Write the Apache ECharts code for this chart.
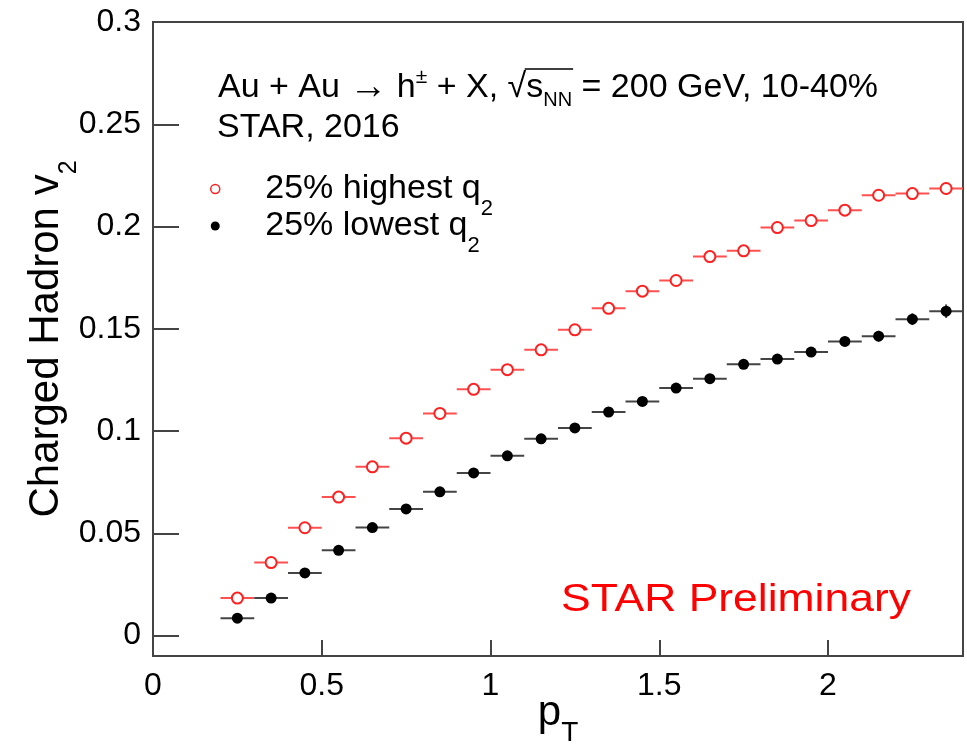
<!DOCTYPE html>
<html><head><meta charset="utf-8">
<script src="https://cdn.jsdelivr.net/npm/echarts@6/dist/echarts.min.js"></script>
<style>html,body{margin:0;padding:0;background:#fff}#c{width:967px;height:746px}</style>
</head><body><div id="c"></div>
<script>
// ---- data ----
const pT = [0.25,0.35,0.45,0.55,0.65,0.75,0.85,0.95,1.05,1.15,1.25,1.35,1.45,1.55,1.65,1.75,1.85,1.95,2.05,2.15,2.25,2.35];
const pTBinHalfWidth = 0.05;
const v2High = [0.0183,0.0357,0.0527,0.0677,0.0825,0.0965,0.1086,0.1204,0.1300,0.1397,0.1495,0.1600,0.1684,0.1736,0.1853,0.1881,0.1995,0.2029,0.2080,0.2153,0.2161,0.2186];
const v2HighErr = [0.0004,0.0004,0.0005,0.0005,0.0006,0.0006,0.0007,0.0008,0.0009,0.0010,0.0011,0.0012,0.0013,0.0014,0.0016,0.0018,0.0020,0.0022,0.0024,0.0028,0.0029,0.0031];
const v2Low = [0.0085,0.0183,0.0306,0.0417,0.0528,0.0619,0.0703,0.0795,0.0879,0.0962,0.1015,0.1093,0.1145,0.1210,0.1256,0.1326,0.1352,0.1386,0.1438,0.1464,0.1547,0.1586];
const v2LowErr = [0.0004,0.0004,0.0005,0.0005,0.0006,0.0006,0.0007,0.0008,0.0009,0.0010,0.0011,0.0012,0.0013,0.0014,0.0016,0.0018,0.0020,0.0022,0.0024,0.0026,0.0029,0.0033];
const xTicks = [0, 0.5, 1, 1.5, 2];
const yTicks = [0, 0.05, 0.1, 0.15, 0.2, 0.25, 0.3];
const seriesNames = ['25% highest q2', '25% lowest q2'];
const legendLabels = ['25% highest q{sub|2}', '25% lowest q{sub|2}'];

// ---- style ----
const FONT = '"Liberation Sans", Arial, Helvetica, sans-serif';
const RED = '#ff2020', RED_BAR = '#ff5050', BLACK = '#000', BLACK_BAR = '#444', FRAME = '#444';

const chart = echarts.init(document.getElementById('c'), null, {renderer: 'canvas'});

function errRender(color) {
  return function (params, api) {
    const x = api.value(0), y = api.value(1), ex = api.value(2), ey = api.value(3);
    const l = api.coord([x - ex, y]), r = api.coord([x + ex, y]);
    const t = api.coord([x, y + ey]), b = api.coord([x, y - ey]);
    return {type: 'group', children: [
      {type: 'line', shape: {x1: l[0], y1: l[1], x2: r[0], y2: r[1]}, style: {stroke: color, lineWidth: 2}},
      {type: 'line', shape: {x1: t[0], y1: t[1], x2: b[0], y2: b[1]}, style: {stroke: color, lineWidth: 2}}
    ]};
  };
}

// text pieces laid out by measured widths (for super/subscripts)
const mctx = document.createElement('canvas').getContext('2d');
function measure(text, size) { mctx.font = size + 'px "Liberation Sans"'; return mctx.measureText(text).width; }
function textRun(segs, x0, baseline) {
  let x = x0; const els = []; const pos = [];
  segs.forEach(s => {
    const w = measure(s.text, s.size);
    const base = baseline + (s.dy || 0);
    els.push({type: 'text', x: x, y: base - 0.33 * s.size, silent: true,
      style: {text: s.text, fontSize: s.size, fontFamily: FONT, fill: '#000', verticalAlign: 'middle', align: 'left'}});
    pos.push([x, x + w]);
    x += w;
  });
  return {els, pos};
}

const line1 = textRun([
  {text: 'Au + Au ', size: 34},
  {text: '\u2192', size: 38, dy: 1},
  {text: ' h', size: 34},
  {text: '\u00b1', size: 21, dy: -15},
  {text: ' + X, ', size: 34},
  {text: '\u221a', size: 34},
  {text: 's', size: 34},
  {text: 'NN', size: 20, dy: 8},
  {text: ' = 200 GeV, 10-40%', size: 34}
], 218, 99);
const sqrtEnd = line1.pos[5][1], nnEnd = line1.pos[7][1];
const overline = {type: 'line', silent: true, shape: {x1: sqrtEnd - 1.5, y1: 69, x2: nnEnd + 1, y2: 69}, style: {stroke: '#000', lineWidth: 1.5}};
const line2 = textRun([{text: 'STAR, 2016', size: 34}], 217, 139);

const option = {
  animation: false,
  backgroundColor: '#fff',
  textStyle: {fontFamily: FONT},
  grid: {left: 153, right: 4, top: 22, bottom: 90, show: true, borderColor: FRAME, borderWidth: 2, backgroundColor: 'transparent', containLabel: false, outerBoundsMode: 'none'},
  legend: {
    orient: 'vertical', left: 210, top: 172, padding: 0, itemGap: -11,
    itemWidth: 90, itemHeight: 9, selectedMode: false,
    data: [
      {name: seriesNames[0], icon: 'circle', itemStyle: {color: '#fff', borderColor: RED, borderWidth: 1.5}},
      {name: seriesNames[1], icon: 'circle', itemStyle: {color: BLACK, borderWidth: 0}}
    ],
    formatter: name => legendLabels[seriesNames.indexOf(name)],
    textStyle: {fontSize: 34, fontFamily: FONT, color: '#000', padding: 0,
      rich: {sub: {fontSize: 22, fontFamily: FONT, color: '#000', padding: [40, 0, 0, 0]}}}
  },
  xAxis: {
    type: 'value', min: 0, max: 2.4,
    axisLine: {show: true, onZero: false, lineStyle: {color: FRAME, width: 2}},
    axisTick: {show: true, inside: true, length: 16, customValues: xTicks, lineStyle: {color: FRAME, width: 2}},
    axisLabel: {customValues: xTicks, fontSize: 32, fontFamily: FONT, color: '#000', margin: 14, formatter: v => String(v)},
    splitLine: {show: false},
    name: 'p{sub|T}', nameLocation: 'middle', nameGap: 23, nameMoveOverlap: false,
    nameTextStyle: {fontSize: 42, fontFamily: FONT, color: '#000',
      rich: {sub: {fontSize: 28, fontFamily: FONT, color: '#000', padding: [40, 0, 0, 0]}}}
  },
  yAxis: {
    type: 'value', min: -0.01, max: 0.3,
    axisLine: {show: true, onZero: false, lineStyle: {color: FRAME, width: 2}},
    axisTick: {show: true, inside: true, length: 26, customValues: yTicks, lineStyle: {color: FRAME, width: 2}},
    axisLabel: {customValues: yTicks, fontSize: 32, fontFamily: FONT, color: '#000', margin: 12, formatter: v => String(v)},
    splitLine: {show: false},
    name: 'Charged Hadron v{sub|2}', nameLocation: 'middle', nameGap: 71, nameRotate: 90, nameMoveOverlap: false,
    nameTextStyle: {fontSize: 42, fontFamily: FONT, color: '#000',
      rich: {sub: {fontSize: 25, fontFamily: FONT, color: '#000', padding: [46, 0, 0, 0]}}}
  },
  series: [
    {type: 'custom', name: 'highErr', silent: true, z: 2, renderItem: errRender(RED_BAR),
     data: pT.map((x, i) => [x, v2High[i], pTBinHalfWidth, v2HighErr[i]])},
    {type: 'custom', name: 'lowErr', silent: true, z: 2, renderItem: errRender(BLACK_BAR),
     data: pT.map((x, i) => [x, v2Low[i], pTBinHalfWidth, v2LowErr[i]])},
    {type: 'scatter', name: seriesNames[0], z: 3, symbol: 'circle', symbolSize: 11,
     itemStyle: {color: '#fff', borderColor: RED, borderWidth: 2, opacity: 1},
     data: pT.map((x, i) => [x, v2High[i]])},
    {type: 'scatter', name: seriesNames[1], z: 3, symbol: 'circle', symbolSize: 11,
     itemStyle: {color: BLACK, borderWidth: 0, opacity: 1},
     data: pT.map((x, i) => [x, v2Low[i]])}
  ],
  graphic: [
    ...line1.els, overline, ...line2.els,
    {type: 'text', x: 561, y: 613 - 0.33 * 38, scaleX: 1.17, silent: true,
     style: {text: 'STAR Preliminary', fontSize: 38, fontFamily: FONT, fill: '#ff0000', verticalAlign: 'middle', align: 'left'}}
  ]
};
chart.setOption(option);
</script></body></html>
